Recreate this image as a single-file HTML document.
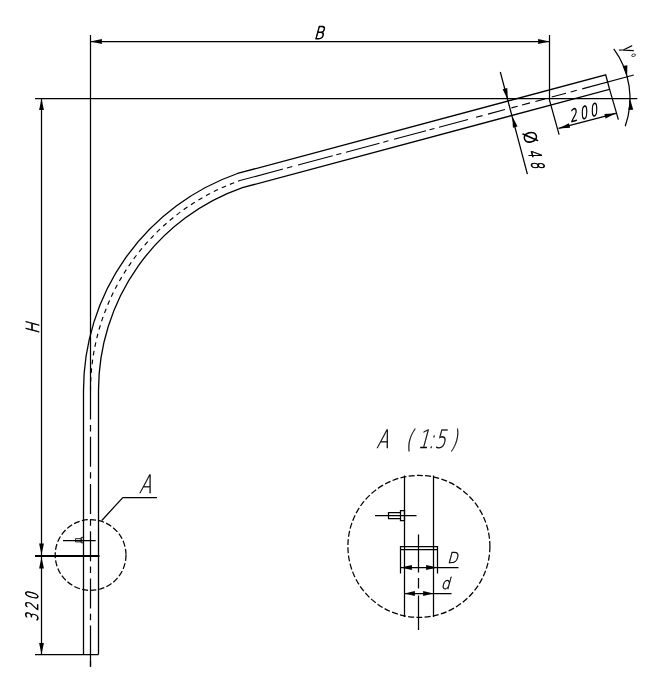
<!DOCTYPE html>
<html lang="ru">
<head>
<meta charset="utf-8">
<title>Drawing</title>
<style>
html,body{margin:0;padding:0;background:#fff;}
body{width:664px;height:687px;overflow:hidden;}
svg{display:block;filter:grayscale(1);}
</style>
</head>
<body>
<svg width="664" height="687" viewBox="0 0 664 687">
<rect width="664" height="687" fill="#fff"/>
<g fill="none" stroke="#000" stroke-width="1.25">
<path d="M90.5 35V389.6"/>
<path d="M35 98.5H637.3"/>
<path d="M90.5 41.5H549.5"/>
<path d="M549.5 35V100.2L559.1 134.6"/>
<path d="M41.5 98.5V654.5"/>
<path d="M35 654.5H98.5"/>
<path d="M83.50 654.5V390.50A229.88 229.88 0 0 1 237.53 173.49L605.70 74.82L609.58 89.31L242.47 187.65A214.88 214.88 0 0 0 98.50 390.50V654.5" stroke-width="1.3"/>
<path d="M609.58 89.31L618.4 119.6"/>
<path d="M90.50 390.50A222.38 222.38 0 0 1 240.00 180.57" stroke-dasharray="4.6 4.2" stroke-width="1.15"/>
<path d="M240.0 180.57L283.0 169.05M287.0 167.98L292.3 166.56M298.0 165.03L332.7 155.73M336.3 154.77L341.3 153.43M346.0 152.17L379.5 143.19M383.3 142.18L388.4 140.81M394.0 139.31L426.0 130.73M429.5 129.80L434.5 128.46M439.0 127.25L468.0 119.48M476.0 117.34L482.5 115.60M488.0 114.12L505.0 109.57M511.4 107.85L517.7 106.16M522.0 105.01L530.0 102.87M535.4 101.42L545.0 98.85M551.7 97.05L566.0 93.22M570.7 91.96L576.8 90.33M582.2 88.88L633.8 75.05" stroke-width="1.1"/>
<path d="M90.5 389.6V666.7" stroke-dasharray="30 5.4 6.4 5.4"/>
<path d="M90.5 655V666.7"/>
<path d="M35 556H99.5" stroke-width="2"/>
<circle cx="90.6" cy="555" r="35.4" stroke-dasharray="6 2.3" stroke-dashoffset="0"/>
<path d="M101.8 520.5L122.8 497.5H157"/>
<path d="M63 540.5H95.7"/>
<path d="M75.5 538.7h5.7v3.2h-5.7zM81.2 537.4h2.2v5.4h-2.2z" stroke-width="0.9"/>
<path d="M500.3 72L527.4 174.2"/>
<path d="M558.5 128.4L616 113.3"/>
<path d="M613.76 48.95A83.7 83.7 0 0 1 625.25 126.30"/>
<circle cx="418.9" cy="546.4" r="71" stroke-dasharray="6 2.3" stroke-dashoffset="0"/>
<path d="M404.5 475.5V617M433.5 475.5V617"/>
<path d="M418.5 534.5V572.5M418.5 578V588.5M418.5 595.5V630"/>
<path d="M400.5 573.5V546.5H437.5V573.5M400.5 549.5H437.5"/>
<path d="M400.5 567.5H458.5M404.5 593.5H451.5"/>
<path d="M375 515.5H416.5M388.5 512.5h12v6h-12zM400.5 510.5h4v10h-4z"/>
</g>
<g fill="#000" stroke="none">
<path d="M90.50 41.50L101.90 43.90L101.90 39.10Z"/>
<path d="M549.50 41.50L538.10 39.10L538.10 43.90Z"/>
<path d="M41.50 98.50L39.10 109.90L43.90 109.90Z"/>
<path d="M41.50 555.00L43.90 543.60L39.10 543.60Z"/>
<path d="M41.50 557.00L39.10 568.40L43.90 568.40Z"/>
<path d="M41.50 654.50L43.90 643.10L39.10 643.10Z"/>
<path d="M507.90 99.70L507.27 88.07L502.63 89.31Z"/>
<path d="M512.30 116.20L512.93 127.83L517.57 126.59Z"/>
<path d="M558.50 128.40L570.13 127.77L568.89 123.13Z"/>
<path d="M616.00 113.30L604.37 113.93L605.61 118.57Z"/>
<path d="M627.15 76.84L627.33 65.19L622.62 66.10Z"/>
<path d="M630.00 98.50L628.40 110.04L633.19 109.70Z"/>
<path d="M400.50 567.50L411.90 569.90L411.90 565.10Z"/>
<path d="M437.50 567.50L426.10 565.10L426.10 569.90Z"/>
<path d="M404.50 593.50L414.90 595.90L414.90 591.10Z"/>
<path d="M433.50 593.50L423.10 591.10L423.10 595.90Z"/>
</g>
<g fill="#000">
<text transform="translate(318.7 39) rotate(0) skewX(-15) scale(0.85 1)" style="font-family:&quot;DejaVu Sans&quot;, &quot;Liberation Sans&quot;, sans-serif;font-weight:200;" font-size="17.5" letter-spacing="0" text-anchor="middle" stroke="#000" stroke-width="0.8" stroke-linejoin="round">B</text>
<text transform="translate(39.2 328.4) rotate(-90) skewX(-15) scale(0.82 1)" style="font-family:&quot;DejaVu Sans&quot;, &quot;Liberation Sans&quot;, sans-serif;font-weight:200;" font-size="18" letter-spacing="0" text-anchor="middle" stroke="#000" stroke-width="0.8" stroke-linejoin="round">H</text>
<text transform="translate(38.0 605.6) rotate(-90) skewX(-15) scale(0.68 1)" style="font-family:&quot;DejaVu Sans&quot;, &quot;Liberation Sans&quot;, sans-serif;font-weight:200;" font-size="17" letter-spacing="4.6" text-anchor="middle" stroke="#000" stroke-width="0.8" stroke-linejoin="round">320</text>
<text transform="translate(145 493) rotate(0) skewX(-15) scale(0.7 1)" style="font-family:&quot;DejaVu Sans&quot;, &quot;Liberation Sans&quot;, sans-serif;font-weight:200;" font-size="25.5" letter-spacing="0" text-anchor="middle" stroke="#000" stroke-width="0.35" stroke-linejoin="round">A</text>
<text transform="translate(376.2 448) rotate(0) skewX(-15) scale(0.7 1)" style="font-family:&quot;DejaVu Sans&quot;, &quot;Liberation Sans&quot;, sans-serif;font-weight:200;" font-size="25.5" letter-spacing="0" text-anchor="start" x="0.00 22.57 41.57 59.00 74.00 82.86 105.43" stroke="#000" stroke-width="0.35" stroke-linejoin="round">A (1:5)</text>
<text transform="translate(452.5 562.8) rotate(0) skewX(-15) scale(0.9 1)" style="font-family:&quot;DejaVu Sans&quot;, &quot;Liberation Sans&quot;, sans-serif;font-weight:200;" font-size="15" letter-spacing="0" text-anchor="middle" stroke="#000" stroke-width="0.45" stroke-linejoin="round">D</text>
<text transform="translate(445.2 589.2) rotate(0) skewX(-15) scale(0.9 1)" style="font-family:&quot;DejaVu Sans&quot;, &quot;Liberation Sans&quot;, sans-serif;font-weight:200;" font-size="16" letter-spacing="0" text-anchor="middle" stroke="#000" stroke-width="0.45" stroke-linejoin="round">d</text>
<text transform="translate(586 118.3) rotate(-15) skewX(-15) scale(0.68 1)" style="font-family:&quot;DejaVu Sans&quot;, &quot;Liberation Sans&quot;, sans-serif;font-weight:200;" font-size="17" letter-spacing="4.6" text-anchor="middle" stroke="#000" stroke-width="0.8" stroke-linejoin="round">200</text>
<text transform="translate(524.3 139) rotate(75) skewX(0) scale(0.95 1)" style="font-family:&quot;DejaVu Sans&quot;, &quot;Liberation Sans&quot;, sans-serif;font-weight:200;" font-size="17" letter-spacing="0" text-anchor="middle" stroke="#000" stroke-width="0.8" stroke-linejoin="round">Ø</text>
<text transform="translate(530.6 162.1) rotate(75) skewX(-15) scale(0.68 1)" style="font-family:&quot;DejaVu Sans&quot;, &quot;Liberation Sans&quot;, sans-serif;font-weight:200;" font-size="17" letter-spacing="6.5" text-anchor="middle" stroke="#000" stroke-width="0.8" stroke-linejoin="round">48</text>
<text transform="translate(622.3 47.6) rotate(72) skewX(0) scale(0.7 1)" style="font-family:&quot;Liberation Sans&quot;, sans-serif;font-style:italic;" font-size="19" letter-spacing="0" text-anchor="start">γ<tspan font-size="16" dx="2.2" dy="0.6">°</tspan></text>
</g>
</svg>
</body>
</html>
